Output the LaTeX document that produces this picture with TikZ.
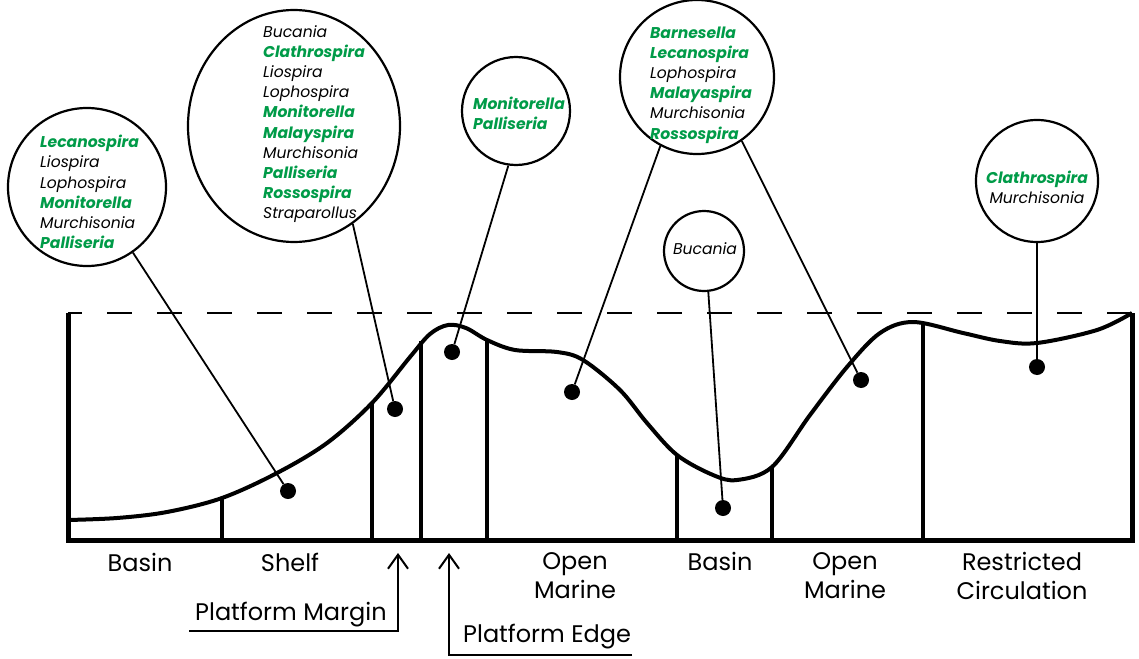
\documentclass[tikz,border=0pt]{standalone}
\usepackage{fontspec}
\setmainfont{Poppins}
\usetikzlibrary{shapes.geometric,arrows.meta}
\definecolor{taxgreen}{RGB}{0,155,72}
\newcommand{\hl}[1]{\textcolor{taxgreen}{\bfseries #1}}
\begin{document}
\begin{tikzpicture}[x=1pt,y=-1pt,
	shore/.style={line width=4pt,line join=round},
	wall/.style={line width=5pt},
	zone/.style={line width=3.5pt},
	sealevel/.style={line width=2pt,dash pattern=on 25pt off 25pt,dash phase=11pt},
	bubble/.style={draw,circle,line width=2.2pt,inner sep=0pt},
	taxa/.style={font=\fontsize{15.6}{20.2}\selectfont\itshape,align=left,anchor=west,inner sep=0pt},
	facies/.style={font=\fontsize{24}{29}\selectfont,align=center,inner sep=0pt},
	site/.style={circle,fill,inner sep=0pt,minimum size=16pt},
	lead/.style={line width=1.8pt},
	pointer/.style={line width=2pt,-{Straight Barb[length=14pt,width=20pt]}}]
	\useasboundingbox (0,0) rectangle (1139,658);
	\coordinate (tl) at (68,313);
	\coordinate (bl) at (68,540);
	\coordinate (br) at (1132,540);
	\coordinate (tr) at (1132,313);
	\draw[sealevel] (tl) -- (tr);
	\draw[shore] plot[smooth,tension=0.55] coordinates {(68,520) (117,518) (167,512) (222,498) (277,473) (327,443) (372,403) (410,357) (430,334) (448,325) (466,328) (487,340) (515,350) (557,352) (583,360) (620,390) (647,423) (677,455) (713,475) (737,480) (772,467) (810,415) (847,367) (880,333) (913,322) (963,333) (1000,341) (1037,343) (1097,330) (1132,313)};
	\draw[zone] (222,540) -- (222,497)
	(372,540) -- (372,402)
	(421,540) -- (421,341)
	(487,540) -- (487,339)
	(677,540) -- (677,454)
	(772,540) -- (772,466)
	(923,540) -- (923,323);
	\draw[wall] (tl) -- (bl) -- (br) -- (tr);
	\node[bubble,minimum size=158pt] (c1) at (87,187) {};
	\node[bubble,ellipse,minimum width=212pt,minimum height=232pt] (c2) at (294,126) {};
	\node[bubble,minimum size=108pt] (c3) at (516,111) {};
	\node[bubble,minimum size=154pt] (c4) at (697,77) {};
	\node[bubble,minimum size=80pt] (c5) at (704,251) {};
	\node[bubble,minimum size=122pt] (c6) at (1037,181) {};
	\node[taxa] (t1) at (40,192) {\hl{Lecanospira}\\Liospira\\Lophospira\\\hl{Monitorella}\\Murchisonia\\\hl{Palliseria}};
	\node[taxa] (t2) at (263,124) {Bucania\\\hl{Clathrospira}\\Liospira\\Lophospira\\\hl{Monitorella}\\\hl{Malayspira}\\Murchisonia\\\hl{Palliseria}\\\hl{Rossospira}\\Straparollus};
	\node[taxa] (t3) at (473,113) {\hl{Monitorella}\\\hl{Palliseria}};
	\node[taxa] (t4) at (650,85) {\hl{Barnesella}\\\hl{Lecanospira}\\Lophospira\\\hl{Malayaspira}\\Murchisonia\\\hl{Rossospira}};
	\node[taxa,anchor=center,align=center] (t5) at (705,249) {Bucania};
	\node[taxa,anchor=center,align=center] (t6) at (1037,187) {\hl{Clathrospira}\\Murchisonia};
	\node[site] (d1) at (288,491) {};
	\node[site] (d2) at (395,409) {};
	\node[site] (d3) at (452,352) {};
	\node[site] (d4) at (572,392) {};
	\node[site] (d5) at (723,508) {};
	\node[site] (d6) at (861,380) {};
	\node[site] (d7) at (1037,367) {};
	\draw[lead] (c1.-55) -- (d1);
	\draw[lead] (c2.-59) -- (d2);
	\draw[lead] (c3.-98) -- (d3);
	\draw[lead] (c4.-118) -- (d4);
	\draw[lead] (c5.-84) -- (d5);
	\draw[lead] (c4.-55) -- (d6);
	\draw[lead] (c6.-90) -- (d7);
	\node[facies] (basin1) at (140,562) {Basin};
	\node[facies] (shelf) at (290,562) {Shelf};
	\node[facies] (open1) at (575,576) {Open\\Marine};
	\node[facies] (basin2) at (720,561) {Basin};
	\node[facies] (open2) at (845,576) {Open\\Marine};
	\node[facies] (restr) at (1022,576) {Restricted\\Circulation};
	\node[facies,anchor=west] (margin) at (195,615) {Platform Margin};
	\node[facies,anchor=west] (edge) at (463,637) {Platform Edge};
	\coordinate (mstart) at (189,631);
	\coordinate (mfoot) at (398,631);
	\coordinate (mtip) at (398,553);
	\coordinate (estart) at (632,655);
	\coordinate (efoot) at (449,655);
	\coordinate (etip) at (449,553);
	\draw[pointer] (mstart) -- (mfoot) -- (mtip);
	\draw[pointer] (estart) -- (efoot) -- (etip);
\end{tikzpicture}
\end{document}
